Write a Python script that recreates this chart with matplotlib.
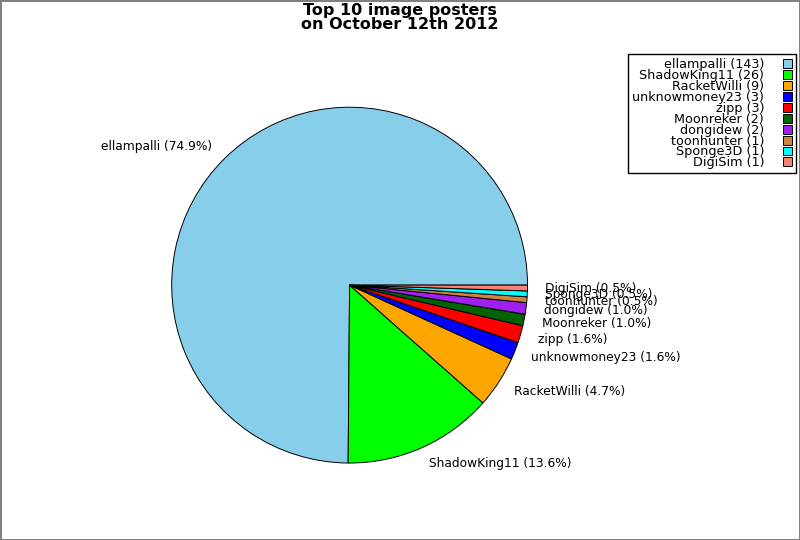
import matplotlib
matplotlib.use("Agg")
import matplotlib.pyplot as plt

names = ["ellampalli", "ShadowKing11", "RacketWilli", "unknowmoney23", "zipp",
         "Moonreker", "dongidew", "toonhunter", "Sponge3D", "DigiSim"]
counts = [143, 26, 9, 3, 3, 2, 2, 1, 1, 1]
colors = ["#87CEEB", "#00FF00", "#FFA500", "#0000FF", "#FF0000",
          "#006400", "#A020F0", "#CD853F", "#00FFFF", "#FA8072"]
title = "Top 10 image posters\non October 12th 2012"

total = sum(counts)
pie_labels = [f"{n} ({100.0 * c / total:.1f}%)" for n, c in zip(names, counts)]
legend_labels = [f"{n} ({c})" for n, c in zip(names, counts)]

fig = plt.figure(figsize=(8, 5.4), dpi=100)
fig.patch.set_edgecolor("#808080")
fig.patch.set_linewidth(2)

ax = fig.add_axes([0.159, 0.060, 0.556, 0.824])
wedges, texts = ax.pie(counts, labels=pie_labels, colors=colors, startangle=0,
                       counterclock=True, labeldistance=1.1,
                       wedgeprops=dict(edgecolor="black", linewidth=0.7),
                       textprops=dict(fontsize=8.8))
ax.set_xlim(-1.25, 1.25)
ax.set_ylim(-1.25, 1.25)
ax.set_aspect("equal")

fig.text(0.5, 0.995, title, ha="center", va="top", fontsize=11.5,
         fontweight="bold", linespacing=0.95)

leg = fig.legend(wedges, legend_labels, loc="upper right",
                 bbox_to_anchor=(0.995, 0.9), markerfirst=False,
                 fancybox=False, edgecolor="black", framealpha=1,
                 fontsize=9.2, labelspacing=-0.16, handlelength=0.7,
                 handleheight=0.7, handletextpad=1.5, borderpad=0.3,
                 borderaxespad=0)
leg.get_frame().set_linewidth(1)

fig.savefig("out.png", dpi=100, edgecolor=fig.get_edgecolor())
